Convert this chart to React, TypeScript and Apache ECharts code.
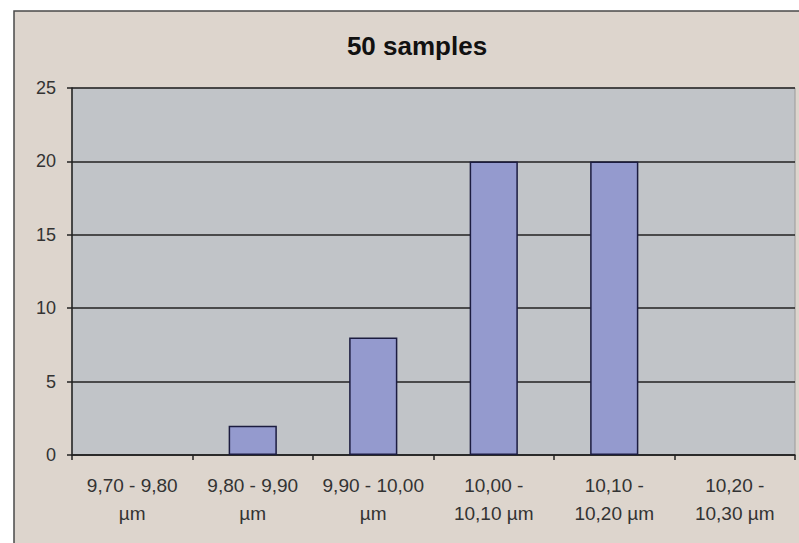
import React, { useEffect, useRef } from "react";
import * as echarts from "echarts";

const categories = [
  "9,70 - 9,80\nµm",
  "9,80 - 9,90\nµm",
  "9,90 - 10,00\nµm",
  "10,00 -\n10,10 µm",
  "10,10 -\n10,20 µm",
  "10,20 -\n10,30 µm",
];
const counts = [0, 2, 8, 20, 20, 0];
const titleText = "50 samples";

export default function App() {
  const ref = useRef<HTMLDivElement>(null);
  useEffect(() => {
    if (!ref.current) return;
    const chart = echarts.init(ref.current, null, { renderer: "svg" });
    chart.setOption({
      animation: false,
      backgroundColor: "#ffffff",
      graphic: [
        {
          type: "rect",
          z: -10,
          shape: { x: 14, y: 11, width: 800, height: 550 },
          style: { fill: "#ddd5cd", stroke: "#4a4a4a", lineWidth: 1.5 },
        },
      ],
      title: {
        text: titleText,
        left: 412,
        textAlign: "center",
        top: 28,
        textStyle: {
          fontFamily: "Liberation Sans, Arial, sans-serif",
          fontSize: 26,
          fontWeight: "bold",
          color: "#111",
        },
      },
      grid: {
        left: 72,
        top: 88,
        right: 4,
        bottom: 88,
        show: true,
        backgroundColor: "#c1c4c8",
        borderColor: "#9a9a9a",
        borderWidth: 1,
      },
      xAxis: {
        type: "category",
        data: categories,
        axisLine: { show: true, lineStyle: { color: "#222", width: 1.5 } },
        axisTick: { show: true, length: 5, lineStyle: { color: "#222", width: 1.5 } },
        axisLabel: {
          margin: 16,
          color: "#333",
          fontFamily: "Liberation Sans, Arial, sans-serif",
          fontSize: 19,
          lineHeight: 28,
          interval: 0,
        },
      },
      yAxis: {
        type: "value",
        min: 0,
        max: 25,
        interval: 5,
        axisLine: { show: true, lineStyle: { color: "#222", width: 1.5 } },
        axisTick: { show: true, length: 5, lineStyle: { color: "#222", width: 1.5 } },
        axisLabel: {
          margin: 16,
          color: "#333",
          fontFamily: "Liberation Sans, Arial, sans-serif",
          fontSize: 18,
        },
        splitLine: { show: true, lineStyle: { color: "#222", width: 1.5 } },
      },
      series: [
        {
          type: "bar",
          data: counts.map((v) =>
            v === 0 ? { value: v, itemStyle: { borderWidth: 0 } } : v
          ),
          barWidth: "40%",
          itemStyle: { color: "#949ace", borderColor: "#1c1c40", borderWidth: 1.5 },
        },
      ],
    });
    return () => chart.dispose();
  }, []);
  return (
    <div
      ref={ref}
      style={{ position: "fixed", left: 0, top: 0, width: 799, height: 543 }}
    />
  );
}
